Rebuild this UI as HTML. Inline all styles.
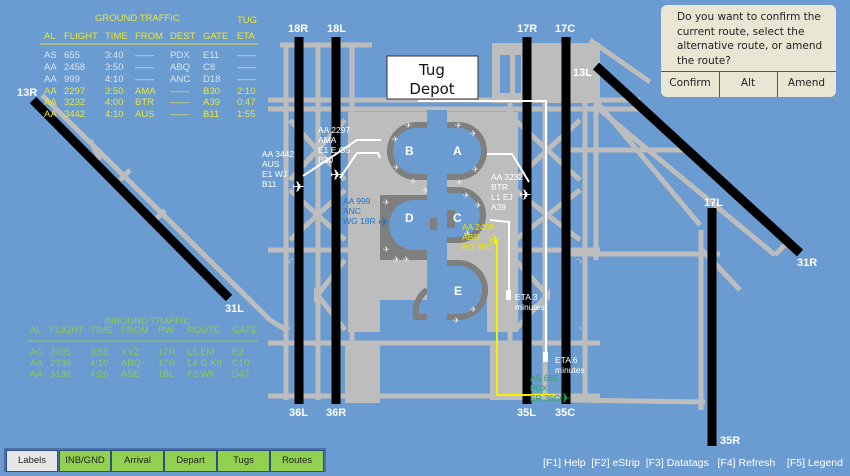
<!DOCTYPE html>
<html><head><meta charset="utf-8"><style>
body{margin:0;width:850px;height:476px;overflow:hidden;background:#6a9bd1;font-family:"Liberation Sans",sans-serif}
svg{position:absolute;left:0;top:0}
.t{position:absolute;font-size:9.5px;white-space:nowrap}
.g span,.n span{position:absolute;font-size:9.5px;white-space:nowrap}
.dlg{position:absolute;left:661px;top:5px;width:175px;height:92px;background:#e9e6d4;border-radius:6px;font-family:"DejaVu Sans","Liberation Sans",sans-serif;color:#222}
.btn{position:absolute;top:450px;height:20px;background:#92d050;border:1px solid #2e5080;font-size:9.5px;text-align:center;line-height:20px;color:#222}
</style></head><body>
<svg width="850" height="476" viewBox="0 0 850 476">
<g stroke="#bdbdbd" stroke-width="5" fill="none">
 <line x1="280" y1="45" x2="372" y2="45"/>
 <line x1="268" y1="100" x2="640" y2="100"/>
 <line x1="268" y1="109" x2="640" y2="109"/>
 <line x1="268" y1="250" x2="600" y2="250"/>
 <line x1="268" y1="343" x2="600" y2="343"/>
 <line x1="268" y1="396" x2="600" y2="396"/>
 <line x1="565" y1="150" x2="690" y2="150"/>
 <line x1="565" y1="254" x2="720" y2="254"/>
 <line x1="570" y1="400" x2="705" y2="402"/>
 <line x1="286" y1="45" x2="286" y2="400"/>
 <line x1="318" y1="45" x2="318" y2="400"/>
 <line x1="352" y1="45" x2="352" y2="400"/>
 <line x1="510" y1="45" x2="510" y2="400"/>
 <line x1="545" y1="45" x2="545" y2="400"/>
 <line x1="585" y1="45" x2="585" y2="400"/>
 <line x1="596" y1="100" x2="596" y2="260"/>
 <line x1="701" y1="230" x2="701" y2="410"/>
 <line x1="290" y1="120" x2="345" y2="180"/><line x1="345" y1="120" x2="290" y2="180"/>
 <line x1="290" y1="190" x2="345" y2="240"/><line x1="345" y1="190" x2="290" y2="240"/>
 <line x1="290" y1="260" x2="345" y2="330"/><line x1="345" y1="260" x2="290" y2="330"/>
 <line x1="515" y1="120" x2="580" y2="180"/><line x1="580" y1="120" x2="515" y2="180"/>
 <line x1="515" y1="190" x2="580" y2="240"/><line x1="580" y1="190" x2="515" y2="240"/>
 <line x1="515" y1="260" x2="580" y2="330"/><line x1="580" y1="260" x2="515" y2="330"/>
 <line x1="590" y1="40" x2="650" y2="82"/>
 <line x1="595" y1="100" x2="700" y2="225"/>
 <line x1="600" y1="110" x2="775" y2="255"/>
 <line x1="775" y1="255" x2="785" y2="245"/>
 <line x1="702" y1="250" x2="740" y2="290"/>
 <line x1="42" y1="95" x2="270" y2="320"/>
 <line x1="270" y1="320" x2="286" y2="330"/>
 <line x1="90" y1="140" x2="100" y2="160"/>
 <line x1="120" y1="180" x2="130" y2="170"/>
 <line x1="155" y1="220" x2="165" y2="210"/>
</g>
<g fill="#bdbdbd">
 <rect x="492" y="43" width="108" height="60"/>
 <rect x="348" y="112" width="170" height="220"/>
 <rect x="345" y="345" width="35" height="58"/>
 <rect x="490" y="345" width="40" height="55"/>
</g>
<g fill="#6a9bd1">
 <rect x="500" y="55" width="10" height="38"/><rect x="515" y="55" width="6" height="38"/>
 <rect x="290" y="55" width="24" height="38"/><rect x="322" y="55" width="10" height="38"/>
 <rect x="427" y="110" width="20" height="225"/>
 <rect x="380" y="300" width="47" height="32"/>
 <rect x="447" y="300" width="40" height="32"/>
 <rect x="290" y="260" width="24" height="75"/>
 <rect x="550" y="260" width="30" height="75"/>
</g>
<rect x="380" y="195" width="47" height="65" fill="#7f7f7f"/>
<g fill="#6a9bd1" stroke="#7f7f7f" stroke-width="6">
 <path d="M427 125 H416 A26 26 0 0 0 416 177 H427"/>
 <path d="M447 125 H458 A26 26 0 0 1 458 177 H447"/>
 <path d="M447 190 H458 A25 25 0 0 1 458 240 H447"/>
 <path d="M447 263 H458 A27 27 0 0 1 458 317 H447"/>
 <path d="M427 290 A27 27 0 0 0 416 317 H427" fill="none"/>
</g>
<path d="M427 200 H414 A25 25 0 0 0 414 250 H427 Z" fill="#6a9bd1"/>
<rect x="427" y="110" width="20" height="225" fill="#6a9bd1"/>
<rect x="430" y="218" width="7" height="12" fill="#7f7f7f"/>
<rect x="447" y="210" width="8" height="18" fill="#7f7f7f"/>
<g stroke="#000" stroke-width="9">
 <line x1="299" y1="37" x2="299" y2="404"/>
 <line x1="336" y1="37" x2="336" y2="404"/>
 <line x1="527" y1="37" x2="527" y2="404"/>
 <line x1="566" y1="37" x2="566" y2="404"/>
 <line x1="712" y1="208" x2="712" y2="446"/>
 <line x1="33" y1="100" x2="229" y2="298"/>
 <line x1="596" y1="66" x2="800" y2="253"/>
</g>
<rect x="387" y="56" width="91" height="43" fill="#fff" stroke="#333" stroke-width="1"/>
<text x="432" y="75" font-family="DejaVu Sans" font-size="15" text-anchor="middle" fill="#111">Tug</text>
<text x="432" y="94" font-family="DejaVu Sans" font-size="15" text-anchor="middle" fill="#111">Depot</text>
<g stroke="#fff" stroke-width="2" fill="none">
 <polyline points="418,101 546,101 546,360"/>
 <polyline points="490,220 509,222 509,295"/>
 <polyline points="303,176 357,140 381,140"/>
 <polyline points="340,178 357,153 378,153 380,158"/>
 <polyline points="487,154 512,154 529,182"/>
</g>
<rect x="543" y="352" width="5" height="10" fill="#fff"/>
<rect x="506" y="290" width="5" height="10" fill="#fff"/>
<polyline points="497,240 497,395 555,395" stroke="#f2f200" stroke-width="2" fill="none"/>
<g font-family="DejaVu Sans" font-size="15" fill="#fff">
 <text x="292" y="192">✈</text><text x="330" y="180">✈</text><text x="519" y="200">✈</text>
</g>
<text x="378" y="227" font-family="DejaVu Sans" font-size="14" fill="#1e78c8">✈</text>
<text x="489" y="245" font-family="DejaVu Sans" font-size="14" fill="#f2f200">✈</text>
<text x="559" y="403" font-family="DejaVu Sans" font-size="14" fill="#1fa050">✈</text>
<g font-family="DejaVu Sans" font-size="8" fill="#eee">
 <text x="405" y="128">✈</text><text x="392" y="142">✈</text><text x="393" y="170">✈</text><text x="410" y="184">✈</text>
 <text x="422" y="193">✈</text><text x="455" y="128">✈</text><text x="470" y="136">✈</text>
 <text x="472" y="172">✈</text><text x="456" y="185">✈</text><text x="463" y="198">✈</text><text x="475" y="208">✈</text>
 <text x="383" y="205">✈</text><text x="383" y="252">✈</text><text x="393" y="262">✈</text><text x="403" y="262">✈</text>
 <text x="453" y="323">✈</text><text x="470" y="312">✈</text><text x="464" y="236">✈</text>
</g>
<g font-size="11" font-weight="bold" fill="#fff">
 <text x="288" y="32">18R</text><text x="327" y="32">18L</text><text x="517" y="32">17R</text><text x="555" y="32">17C</text>
 <text x="573" y="76">13L</text><text x="17" y="96">13R</text><text x="225" y="312">31L</text><text x="797" y="266">31R</text>
 <text x="704" y="206">17L</text><text x="720" y="444">35R</text>
 <text x="289" y="416">36L</text><text x="326" y="416">36R</text><text x="517" y="416">35L</text><text x="555" y="416">35C</text>
</g>
<g font-size="8.5" fill="#fff">
 <text x="262" y="157">AA 3442</text><text x="262" y="167">AUS</text><text x="262" y="177">E1 WJ</text><text x="262" y="187">B11</text>
 <text x="318" y="133">AA 2297</text><text x="318" y="143">AMA</text><text x="318" y="153">E1 E G5</text><text x="318" y="163">B30</text>
 <text x="491" y="180">AA 3232</text><text x="491" y="190">BTR</text><text x="491" y="200">L1 EJ</text><text x="491" y="210">A39</text>
 <text x="515" y="300">ETA 3</text><text x="515" y="310">minutes</text>
 <text x="555" y="363">ETA 6</text><text x="555" y="373">minutes</text>
</g>
<g font-size="12" font-weight="bold" fill="#fff">
 <text x="405" y="155">B</text><text x="453" y="155">A</text><text x="453" y="222">C</text><text x="405" y="222">D</text><text x="454" y="295">E</text>
</g>
<g font-size="8.5" fill="#1e78c8">
 <text x="343" y="204">AA 999</text><text x="343" y="214">ANC</text><text x="343" y="224">WG 18R</text>
</g>
<g font-size="8.5" fill="#e8e800">
 <text x="462" y="230">AA 2458</text><text x="462" y="240">ABQ</text><text x="462" y="250">EQ 35C</text>
</g>
<g font-size="8.5" fill="#2da860">
 <text x="530" y="381">AS 655</text><text x="530" y="391">PDX</text><text x="530" y="401">ER 35C</text>
</g>
<line x1="40" y1="44" x2="258" y2="44" stroke="#dede3c" stroke-width="1"/>
<line x1="27" y1="341" x2="258" y2="341" stroke="#8fc85a" stroke-width="1"/>
</svg>

<div class="t" style="left:95px;top:13px;color:#e6e640">GROUND TRAFFIC</div>
<div class="t" style="left:237px;top:15px;color:#e6e640">TUG</div>
<div class="g">
<div style="color:#e6e640"><span style="left:44px;top:31px">AL</span><span style="left:64px;top:31px">FLIGHT</span><span style="left:105px;top:31px">TIME</span><span style="left:135px;top:31px">FROM</span><span style="left:170px;top:31px">DEST</span><span style="left:203px;top:31px">GATE</span><span style="left:237px;top:31px">ETA</span></div>
<div style="color:#dce4f0"><span style="left:44px;top:50px">AS</span><span style="left:64px;top:50px">655</span><span style="left:105px;top:50px">3:40</span><span style="left:135px;top:50px">——</span><span style="left:170px;top:50px">PDX</span><span style="left:203px;top:50px">E11</span><span style="left:237px;top:50px">——</span></div>
<div style="color:#dce4f0"><span style="left:44px;top:62px">AA</span><span style="left:64px;top:62px">2458</span><span style="left:105px;top:62px">3:50</span><span style="left:135px;top:62px">——</span><span style="left:170px;top:62px">ABQ</span><span style="left:203px;top:62px">C8</span><span style="left:237px;top:62px">——</span></div>
<div style="color:#dce4f0"><span style="left:44px;top:74px">AA</span><span style="left:64px;top:74px">999</span><span style="left:105px;top:74px">4:10</span><span style="left:135px;top:74px">——</span><span style="left:170px;top:74px">ANC</span><span style="left:203px;top:74px">D18</span><span style="left:237px;top:74px">——</span></div>
<div style="color:#e6e640"><span style="left:44px;top:86px">AA</span><span style="left:64px;top:86px">2297</span><span style="left:105px;top:86px">3:50</span><span style="left:135px;top:86px">AMA</span><span style="left:170px;top:86px">——</span><span style="left:203px;top:86px">B30</span><span style="left:237px;top:86px">2:10</span></div>
<div style="color:#e6e640"><span style="left:44px;top:97px">AA</span><span style="left:64px;top:97px">3232</span><span style="left:105px;top:97px">4:00</span><span style="left:135px;top:97px">BTR</span><span style="left:170px;top:97px">——</span><span style="left:203px;top:97px">A39</span><span style="left:237px;top:97px">0:47</span></div>
<div style="color:#e6e640"><span style="left:44px;top:109px">AA</span><span style="left:64px;top:109px">3442</span><span style="left:105px;top:109px">4:10</span><span style="left:135px;top:109px">AUS</span><span style="left:170px;top:109px">——</span><span style="left:203px;top:109px">B11</span><span style="left:237px;top:109px">1:55</span></div>
</div>

<div class="t" style="left:104px;top:316px;color:#8fc85a">INBOUND TRAFFIC</div>
<div class="n" style="color:#8fc85a">
<span style="left:30px;top:325px">AL</span><span style="left:50px;top:325px">FLIGHT</span><span style="left:90px;top:325px">TIME</span><span style="left:121px;top:325px">FROM</span><span style="left:158px;top:325px">RW</span><span style="left:187px;top:325px">ROUTE</span><span style="left:232px;top:325px">GATE</span>
<span style="left:30px;top:347px">AC</span><span style="left:50px;top:347px">7485</span><span style="left:90px;top:347px">3:55</span><span style="left:121px;top:347px">YYZ</span><span style="left:158px;top:347px">17R</span><span style="left:187px;top:347px">L5 EM</span><span style="left:232px;top:347px">E2</span>
<span style="left:30px;top:358px">AA</span><span style="left:50px;top:358px">2339</span><span style="left:90px;top:358px">4:10</span><span style="left:121px;top:358px">ABQ</span><span style="left:158px;top:358px">17R</span><span style="left:187px;top:358px">L4 G K8</span><span style="left:232px;top:358px">C10</span>
<span style="left:30px;top:369px">AA</span><span style="left:50px;top:369px">3136</span><span style="left:90px;top:369px">4:20</span><span style="left:121px;top:369px">ASE</span><span style="left:158px;top:369px">18L</span><span style="left:187px;top:369px">F2 WK</span><span style="left:232px;top:369px">D47</span>
</div>

<div class="dlg">
<div style="position:absolute;left:16px;top:5px;font-size:10.5px;line-height:14.5px">Do you want to confirm the<br>current route, select the<br>alternative route, or amend<br>the route?</div>
<div style="position:absolute;left:0;top:66px;width:175px;border-top:1px solid #555"></div>
<div style="position:absolute;left:58px;top:66px;height:26px;border-left:1px solid #555"></div>
<div style="position:absolute;left:116px;top:66px;height:26px;border-left:1px solid #555"></div>
<div style="position:absolute;left:0;top:72px;width:58px;text-align:center;font-size:10.5px">Confirm</div>
<div style="position:absolute;left:58px;top:72px;width:58px;text-align:center;font-size:10.5px">Alt</div>
<div style="position:absolute;left:116px;top:72px;width:59px;text-align:center;font-size:10.5px">Amend</div>
</div>

<div style="position:absolute;left:4px;top:448px;width:322px;height:24px;background:#4a72a8"></div>
<div class="btn" style="left:6px;width:50px;background:#e6e6e6">Labels</div>
<div class="btn" style="left:59px;width:50px">INB/GND</div>
<div class="btn" style="left:111px;width:51px">Arrival</div>
<div class="btn" style="left:164px;width:51px">Depart</div>
<div class="btn" style="left:217px;width:51px">Tugs</div>
<div class="btn" style="left:270px;width:52px">Routes</div>

<div class="t" style="left:543px;top:457px;font-size:10.5px;color:#fff">[F1] Help &nbsp;[F2] eStrip &nbsp;[F3] Datatags &nbsp;&nbsp;[F4] Refresh &nbsp;&nbsp;&nbsp;[F5] Legend</div>
</body></html>
